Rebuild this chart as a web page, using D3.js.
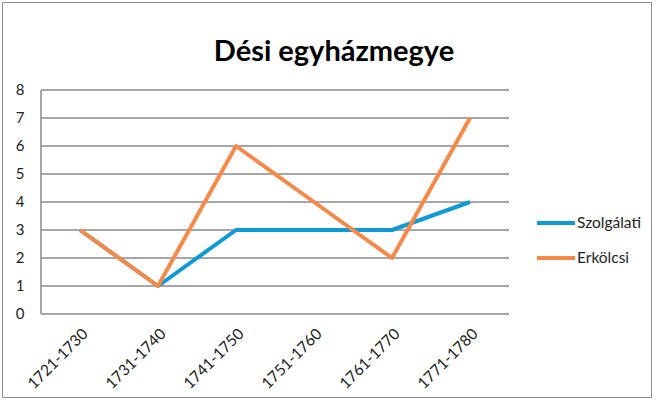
<!DOCTYPE html>
<html>
<head>
<meta charset="utf-8">
<script src="https://cdn.jsdelivr.net/npm/d3@7"></script>
<style>
  body { margin: 0; background: #fff; }
  text { font-family: Lato, "Open Sans", sans-serif; }
</style>
</head>
<body>
<svg id="chart" width="657" height="404"></svg>
<script>
const categories = ["1721-1730", "1731-1740", "1741-1750", "1751-1760", "1761-1770", "1771-1780"];
const szolgalati = [3, 1, 3, 3, 3, 4];
const erkolcsi = [3, 1, 6, 4, 2, 7];
const yTicks = [0, 1, 2, 3, 4, 5, 6, 7, 8];

const series = [
  { name: "Szolgálati", values: szolgalati, color: "#0f9ad6" },
  { name: "Erkölcsi", values: erkolcsi, color: "#f58a48" }
];

const svg = d3.select("#chart");

// outer frame
svg.append("rect")
  .attr("x", 2.5).attr("y", 2.5)
  .attr("width", 649).attr("height", 395)
  .attr("fill", "none")
  .attr("stroke", "#8c8c8c")
  .attr("stroke-width", 1);

const plot = { left: 41, right: 509, top: 90, bottom: 314 };

const x = d3.scalePoint()
  .domain(categories)
  .range([plot.left, plot.right])
  .padding(0.5);

const y = d3.scaleLinear()
  .domain([0, 8])
  .range([plot.bottom, plot.top]);

// gridlines
svg.append("g")
  .selectAll("line")
  .data(yTicks)
  .join("line")
  .attr("x1", plot.left)
  .attr("x2", plot.right)
  .attr("y1", d => y(d))
  .attr("y2", d => y(d))
  .attr("stroke", "#8a8a8a")
  .attr("stroke-width", 1.5);

// left axis line
svg.append("line")
  .attr("x1", plot.left).attr("x2", plot.left)
  .attr("y1", plot.top).attr("y2", plot.bottom)
  .attr("stroke", "#8a8a8a")
  .attr("stroke-width", 1.5);

// y labels
svg.append("g")
  .selectAll("text")
  .data(yTicks)
  .join("text")
  .attr("x", 20)
  .attr("y", d => y(d))
  .attr("dy", "0.35em")
  .attr("text-anchor", "middle")
  .attr("font-size", 15)
  .attr("fill", "#222")
  .text(d => d);

// x labels, rotated
svg.append("g")
  .selectAll("text")
  .data(categories)
  .join("text")
  .attr("transform", d => `translate(${x(d) + 5},${plot.bottom + 17}) rotate(-45)`)
  .attr("text-anchor", "end")
  .attr("dy", "0.35em")
  .attr("font-size", 15.5)
  .attr("fill", "#222")
  .text(d => d);

// lines
const line = d3.line()
  .defined(d => d.v != null)
  .x(d => x(d.c))
  .y(d => y(d.v));

svg.append("g")
  .selectAll("path")
  .data(series)
  .join("path")
  .attr("d", s => line(s.values.map((v, i) => ({ c: categories[i], v: v }))))
  .attr("fill", "none")
  .attr("stroke", s => s.color)
  .attr("stroke-width", 4)
  .attr("stroke-linejoin", "round");

// title
svg.append("text")
  .attr("x", 334)
  .attr("y", 61)
  .attr("text-anchor", "middle")
  .attr("font-size", 29)
  .attr("font-weight", "bold")
  .attr("fill", "#000")
  .text("Dési egyházmegye");

// legend
const legend = svg.append("g")
  .selectAll("g")
  .data(series)
  .join("g")
  .attr("transform", (d, i) => `translate(537,${223 + i * 35})`);

legend.append("line")
  .attr("x1", 0).attr("x2", 38)
  .attr("stroke", d => d.color)
  .attr("stroke-width", 4);

legend.append("text")
  .attr("x", 40)
  .attr("dy", "0.35em")
  .attr("font-size", 15.5)
  .attr("fill", "#222")
  .text(d => d.name);
</script>
</body>
</html>
